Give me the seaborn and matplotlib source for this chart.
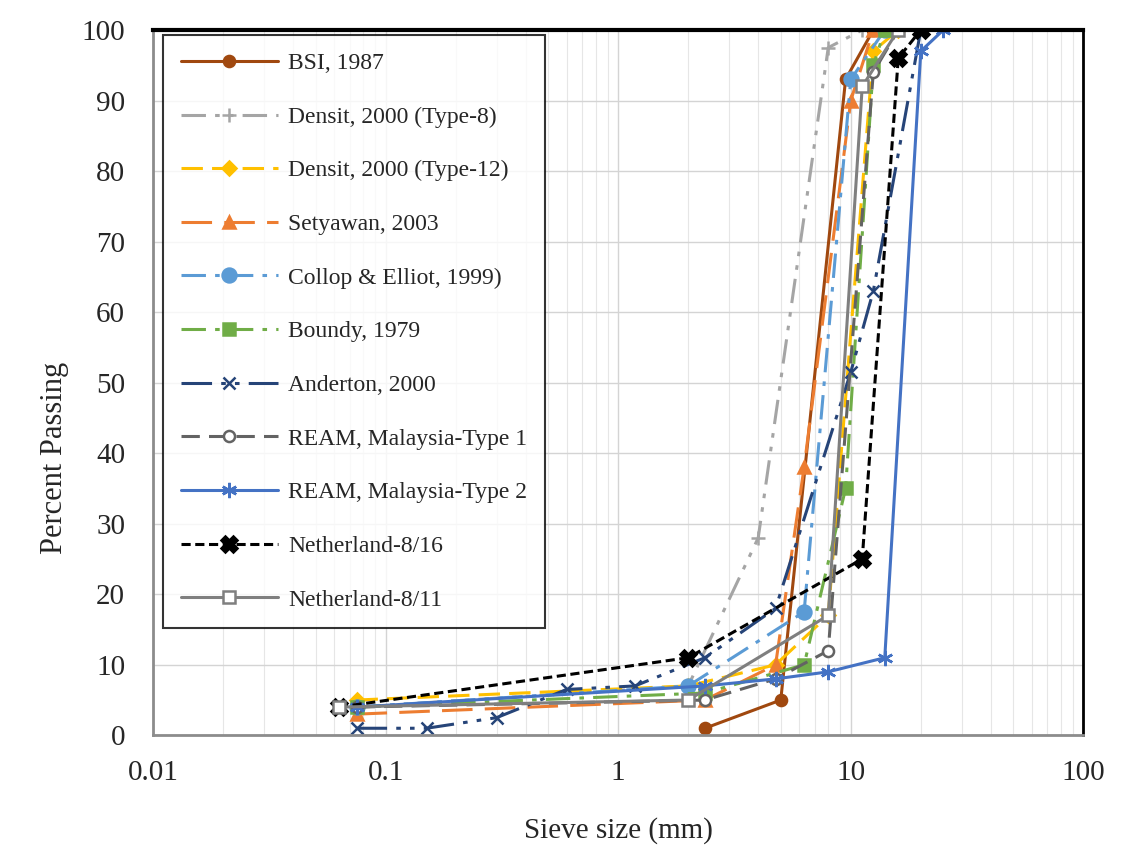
import numpy as np
import pandas as pd
import matplotlib
matplotlib.use("Agg")
import matplotlib.pyplot as plt
import seaborn as sns

# gradation data (sieve size mm, percent passing)
bsi_size = [2.36, 5, 9.5, 12.5]
bsi_pass = [1, 5, 93, 100]

densit8_size = [0.075, 2, 4, 8, 11.2]
densit8_pass = [4, 7, 28, 97.5, 100]

densit12_size = [0.075, 2, 4.75, 8, 12.5, 16]
densit12_pass = [5, 7, 10, 17, 97, 100]

setyawan_size = [0.075, 2.36, 4.75, 6.3, 10, 12.5]
setyawan_pass = [3, 5, 10, 38, 90, 100]

collop_size = [0.075, 2, 6.3, 10, 14]
collop_pass = [4, 7, 17.5, 93, 100]

boundy_size = [0.075, 2.36, 6.3, 9.5, 12.5, 14]
boundy_pass = [4, 6, 10, 35, 95, 100]

anderton_size = [0.075, 0.15, 0.3, 0.6, 1.18, 2.36, 4.75, 10, 12.5, 20]
anderton_pass = [1, 1, 2.5, 6.5, 7, 11, 18, 51.5, 63, 100]

ream1_size = [0.075, 2.36, 4.75, 8, 12.5, 16]
ream1_pass = [4, 5, 8, 12, 94, 100]

ream2_size = [0.075, 2.36, 4.75, 8, 14, 20, 25]
ream2_pass = [4, 7, 8, 9, 11, 97, 100]

nl816_size = [0.063, 2, 11.2, 16, 20]
nl816_pass = [4, 11, 25, 96, 100]

nl811_size = [0.063, 2, 8, 11.2, 16]
nl811_pass = [4, 5, 17, 92, 100]

labels = ["BSI, 1987", "Densit, 2000 (Type-8)", "Densit, 2000 (Type-12)",
          "Setyawan, 2003", "Collop & Elliot, 1999)", "Boundy, 1979",
          "Anderton, 2000", "REAM, Malaysia-Type 1", "REAM, Malaysia-Type 2",
          "Netherland-8/16", "Netherland-8/11"]
sizes = [bsi_size, densit8_size, densit12_size, setyawan_size, collop_size,
         boundy_size, anderton_size, ream1_size, ream2_size, nl816_size, nl811_size]
passing = [bsi_pass, densit8_pass, densit12_pass, setyawan_pass, collop_pass,
           boundy_pass, anderton_pass, ream1_pass, ream2_pass, nl816_pass, nl811_pass]

# style of each series (colour, line style, marker, marker face, marker size)
styles = [
    ("#A0480F", "-", "o", None, 8),
    ("#A5A5A5", (0, (8, 3, 1.5, 3, 1.5, 3)), "+", None, 10),
    ("#FFC000", (0, (7, 3)), "D", None, 7),
    ("#ED7D31", (0, (10, 4)), "^", None, 9),
    ("#5B9BD5", (0, (8, 3, 1.5, 3)), "o", None, 10),
    ("#70AD47", (0, (8, 3, 1.5, 3)), "s", None, 9),
    ("#264478", (0, (10, 3, 1.5, 3, 1.5, 3)), "x", None, 8),
    ("#636363", (0, (6, 3)), "o", "white", 8),
    ("#4472C4", "-", (6, 2, 0), None, 11),
    ("#000000", (0, (3, 1.5)), "X", None, 11),
    ("#7F7F7F", "-", "s", "white", 8),
]

rows = []
for lab, xs, ys in zip(labels, sizes, passing):
    for x, y in zip(xs, ys):
        rows.append({"series": lab, "size": x, "passing": y})
df = pd.DataFrame(rows)

sns.set_theme(style="white")
plt.rcParams["font.family"] = ["Liberation Serif", "DejaVu Serif"]

fig = plt.figure(figsize=(11.25, 8.57), dpi=100)
ax = fig.add_axes([0.136, 0.142, 0.827, 0.823])

for lab, (col, ls, mk, mfc, ms) in zip(labels, styles):
    sub = df[df["series"] == lab]
    sns.lineplot(data=sub, x="size", y="passing", ax=ax, sort=False,
                 estimator=None, color=col, linestyle=ls, linewidth=2.2,
                 marker=mk, markersize=ms,
                 markerfacecolor=mfc if mfc else col,
                 markeredgecolor=col, markeredgewidth=1.8, label=lab)

ax.set_xscale("log")
ax.set_xlim(0.01, 100)
ax.set_ylim(0, 100)
ax.set_yticks(np.arange(0, 101, 10))
ax.set_xticks([0.01, 0.1, 1, 10, 100])
ax.set_xticklabels(["0.01", "0.1", "1", "10", "100"])
ax.grid(True, which="major", color="#D4D4D4", linewidth=1)
ax.grid(True, which="minor", axis="x", color="#E6E6E6", linewidth=0.8)
ax.tick_params(axis="both", which="both", length=0, labelsize=21)
ax.tick_params(axis="y", pad=20)
ax.tick_params(axis="x", pad=18)
ax.set_xlabel("Sieve size (mm)", fontsize=21, labelpad=22)
ax.set_ylabel("Percent Passing", fontsize=22)
ax.yaxis.set_label_coords(-0.09, 0.393)

for side in ["left", "bottom"]:
    ax.spines[side].set_color("#8C8C8C")
    ax.spines[side].set_linewidth(2)
ax.spines["top"].set_color("black")
ax.spines["top"].set_linewidth(3)
ax.spines["right"].set_color("black")
ax.spines["right"].set_linewidth(2)

leg = ax.legend(loc="upper left", bbox_to_anchor=(0.011, 0.993), fontsize=17,
                frameon=True, fancybox=False, edgecolor="black",
                handlelength=4.1, labelspacing=1.36, borderpad=0.75,
                handletextpad=0.45, borderaxespad=0)
leg.get_frame().set_linewidth(1.5)

fig.savefig("out.png", dpi=100)
